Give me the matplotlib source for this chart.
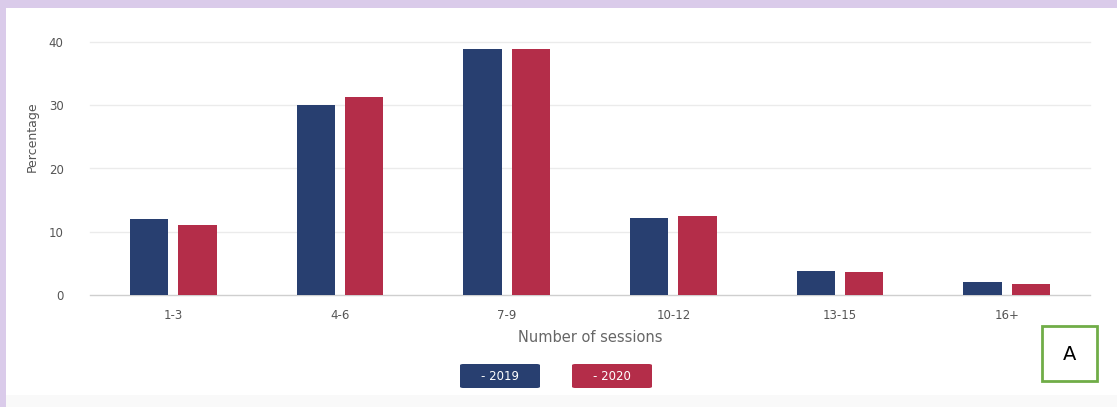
import matplotlib
matplotlib.use("Agg")
import matplotlib.pyplot as plt
from matplotlib.patches import Rectangle, FancyBboxPatch
import numpy as np

categories = ["1-3", "4-6", "7-9", "10-12", "13-15", "16+"]
values_2019 = [12.0, 30.0, 38.9, 12.2, 3.8, 2.0]
values_2020 = [11.1, 31.3, 38.9, 12.5, 3.6, 1.7]
series_labels = ["- 2019", "- 2020"]
yticks = [0, 10, 20, 30, 40]

navy = "#283f70"
crimson = "#b42d49"

W, H = 1117, 407
fig = plt.figure(figsize=(W / 100, H / 100), dpi=100)
fig.patch.set_facecolor("white")

def fx(px):
    return px / W

def fy(py):
    return 1 - py / H

# background decorations
fig.patches.append(Rectangle((0, fy(8)), 1, 8 / H, transform=fig.transFigure,
                             facecolor="#dacbea", edgecolor="none", zorder=0))
fig.patches.append(Rectangle((0, 0), 6 / W, 1, transform=fig.transFigure,
                             facecolor="#dacbea", edgecolor="none", zorder=0))
fig.patches.append(Rectangle((6 / W, 0), 1, 12 / H, transform=fig.transFigure,
                             facecolor="#f9f9f9", edgecolor="none", zorder=0))

ax = fig.add_axes([fx(90), fy(295), fx(1090) - fx(90), fy(42) - fy(295)])
ax.set_facecolor("none")

x = np.arange(len(categories))
bw = 0.23
off = 0.145
ax.bar(x - off, values_2019, width=bw, color=navy, zorder=3)
ax.bar(x + off, values_2020, width=bw, color=crimson, zorder=3)

ax.set_xlim(-0.5, len(categories) - 0.5)
ax.set_ylim(0, 40)
ax.set_yticks(yticks)
ax.set_yticklabels([str(t) for t in yticks])
ax.set_xticks(x)
ax.set_xticklabels(categories)
ax.tick_params(axis="both", length=0, colors="#555555", labelsize=8.5)
ax.tick_params(axis="y", pad=19)
ax.tick_params(axis="x", pad=10)
for t in yticks[1:]:
    ax.axhline(t, color="#ebebeb", lw=1, zorder=1, clip_on=False)
ax.axhline(0, color="#cfcfcf", lw=1, zorder=2, clip_on=False)
for s in ax.spines.values():
    s.set_visible(False)

fig.text(fx(590), fy(337), "Number of sessions", ha="center", va="center",
         fontsize=10.5, color="#666666")
fig.text(fx(32), fy(137), "Percentage", ha="center", va="center",
         rotation=90, fontsize=9, color="#555555")

# legend boxes
for (x0, col, lab) in [(460, navy, series_labels[0]), (572, crimson, series_labels[1])]:
    fig.patches.append(FancyBboxPatch((fx(x0), fy(388)), fx(80), 24 / H,
                                      boxstyle="round,pad=0,rounding_size=0.003",
                                      transform=fig.transFigure, facecolor=col,
                                      edgecolor="none", zorder=2))
    fig.text(fx(x0 + 40), fy(376), lab, ha="center", va="center",
             fontsize=8.5, color="white")

# "A" box
fig.patches.append(Rectangle((fx(1042), fy(381)), fx(55), 55 / H,
                             transform=fig.transFigure, facecolor="white",
                             edgecolor="#70ad47", lw=2, zorder=2))
fig.text(fx(1069.5), fy(354), "A", ha="center", va="center", fontsize=14,
         color="black")

fig.savefig("out.png", dpi=100)
